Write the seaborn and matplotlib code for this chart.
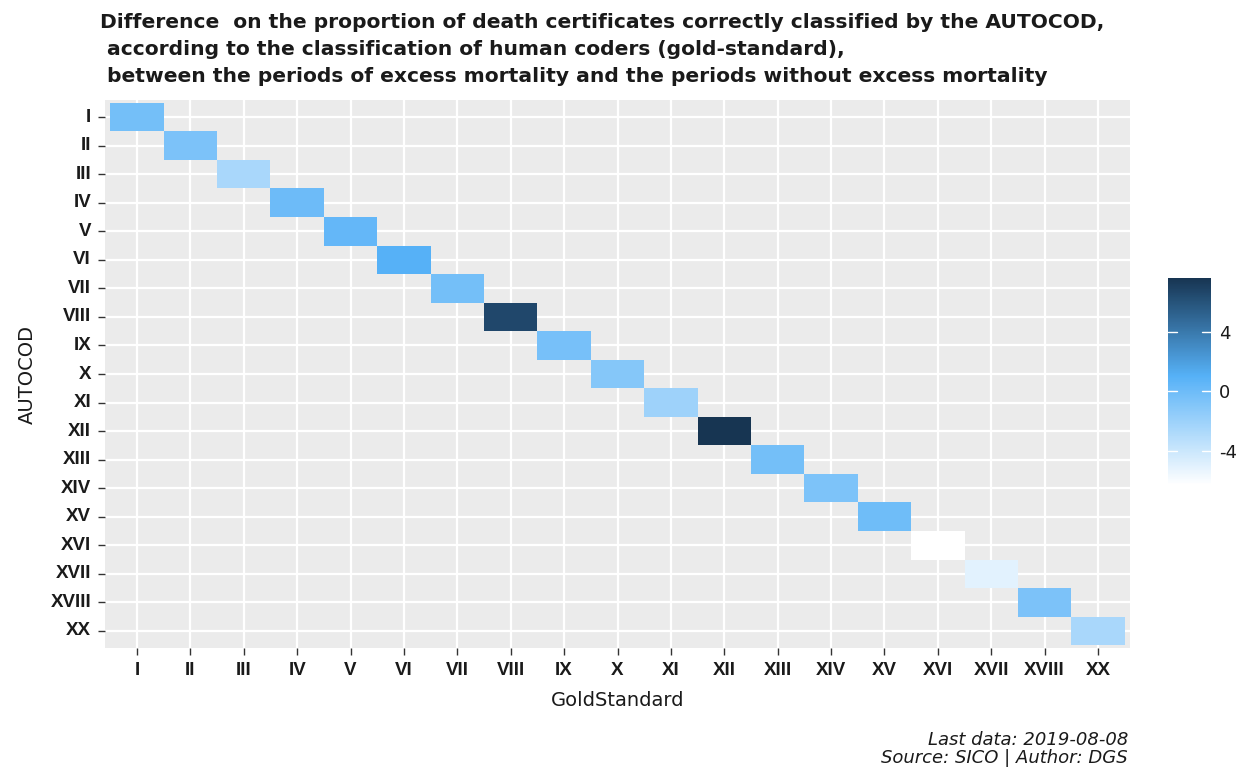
import numpy as np
import pandas as pd
import matplotlib
matplotlib.use("Agg")
import matplotlib.pyplot as plt
from matplotlib.colors import LinearSegmentedColormap
import seaborn as sns

categories = ["I", "II", "III", "IV", "V", "VI", "VII", "VIII", "IX", "X",
              "XI", "XII", "XIII", "XIV", "XV", "XVI", "XVII", "XVIII", "XX"]
differences = [-0.3, -0.6, -2.6, 0.0, 0.4, 1.0, -0.3, 6.6, -0.4, -1.0,
               -2.1, 7.6, -0.3, -0.7, -0.1, -6.3, -5.0, -0.6, -2.6]
cbar_ticks = [-4, 0, 4]

title = ("Difference  on the proportion of death certificates correctly classified by the AUTOCOD,\n"
         " according to the classification of human coders (gold-standard),\n"
         " between the periods of excess mortality and the periods without excess mortality")
caption = "Last data: 2019-08-08\nSource: SICO | Author: DGS"

sns.set_theme(style="white")
plt.rcParams['font.family'] = ['Liberation Sans', 'DejaVu Sans']
plt.rcParams['axes.unicode_minus'] = False

df = pd.DataFrame({"AUTOCOD": categories, "GoldStandard": categories, "diff": differences})
mat = df.pivot(index="AUTOCOD", columns="GoldStandard", values="diff")
mat = mat.reindex(index=categories, columns=categories)

vmin, vmax = min(differences), max(differences)
midpos = (1.0 - vmin) / (vmax - vmin)
cmap = LinearSegmentedColormap.from_list(
    "gg", [(0.0, "#FFFFFF"), (midpos, "#56B1F7"), (1.0, "#173552")])

fig = plt.figure(figsize=(12.48, 7.69), dpi=100)
ax = fig.add_axes([105/1248, 1-648/769, (1130-105)/1248, (648-100)/769])
cax = fig.add_axes([1168/1248, 1-485/769, 43/1248, 207/769])

ax.set_facecolor("#EBEBEB")
ax.set_axisbelow(True)
sns.heatmap(mat, ax=ax, cmap=cmap, vmin=vmin, vmax=vmax, cbar_ax=cax,
            linewidths=0, square=False,
            cbar_kws={"ticks": cbar_ticks})

n = len(categories)
ax.set_xlim(-0.1, n + 0.1)
ax.set_ylim(n + 0.1, -0.1)
ax.set_xticks(np.arange(n) + 0.5)
ax.set_yticks(np.arange(n) + 0.5)
ax.set_xticklabels(categories, rotation=0, fontsize=13.5, fontweight="bold", color="#1A1A1A")
ax.set_yticklabels(categories, rotation=0, fontsize=13.5, fontweight="bold", color="#1A1A1A")
ax.grid(True, color="white", linewidth=1.6)
ax.tick_params(axis="both", which="major", length=5, width=1, color="#333333",
               bottom=True, left=True, pad=5)
for s in ax.spines.values():
    s.set_visible(False)
ax.set_xlabel("GoldStandard", fontsize=14, color="#1A1A1A", labelpad=9,
              family=["DejaVu Sans"])
ax.set_ylabel("AUTOCOD", fontsize=14, color="#1A1A1A", labelpad=10,
              family=["DejaVu Sans"])

# colorbar styling
cax.tick_params(axis="y", length=0, labelsize=13, labelcolor="#1A1A1A", pad=6)
for lab in cax.get_yticklabels():
    lab.set_family(["DejaVu Sans"])
for t in cbar_ticks:
    cax.plot([0, 0.2], [t, t], color="white", lw=1, transform=cax.get_yaxis_transform())
    cax.plot([0.8, 1.0], [t, t], color="white", lw=1, transform=cax.get_yaxis_transform())
for s in cax.spines.values():
    s.set_visible(False)

fig.text(100/1248, 1-13/769, title, ha="left", va="top", fontsize=14.6,
         fontweight="bold", color="#1A1A1A", linespacing=1.55,
         family=["DejaVu Sans"])
fig.text(1128/1248, 1-731/769, caption, ha="right", va="top", fontsize=13,
         style="italic", color="#1A1A1A", linespacing=1.0,
         family=["DejaVu Sans"])

fig.savefig("out.png", dpi=100)
